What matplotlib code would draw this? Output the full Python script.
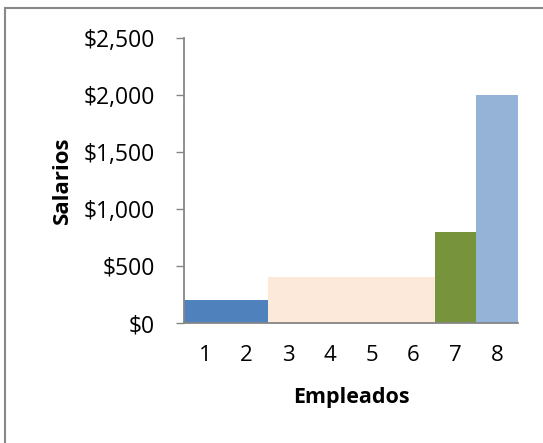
import matplotlib.pyplot as plt
from matplotlib.patches import Rectangle
from matplotlib.ticker import FuncFormatter

plt.rcParams['font.family'] = ['Open Sans', 'DejaVu Sans']

# data
empleados = [1, 2, 3, 4, 5, 6, 7, 8]
salarios = [200, 200, 400, 400, 400, 400, 800, 2000]
colores = ['#4F81BD', '#4F81BD', '#FCE9DA', '#FCE9DA', '#FCE9DA', '#FCE9DA', '#77933C', '#95B3D7']
y_ticks = [0, 500, 1000, 1500, 2000, 2500]

fig = plt.figure(figsize=(5.43, 4.43), dpi=100)
ax = fig.add_axes([184 / 543, 1 - 323 / 443, 334 / 543, 285 / 443])

ax.bar(empleados, salarios, width=1.0, color=colores, linewidth=0)

ax.set_xlim(0.5, 8.5)
ax.set_ylim(0, 2500)
ax.set_yticks(y_ticks)
ax.yaxis.set_major_formatter(FuncFormatter(lambda v, p: f"${v:,.0f}"))
ax.set_xticks(empleados)

for s in ['top', 'right']:
    ax.spines[s].set_visible(False)
for s in ['left', 'bottom']:
    ax.spines[s].set_color('#868686')
    ax.spines[s].set_linewidth(1.3)

ax.tick_params(axis='y', length=6, width=1, color='#868686', labelsize=16.5, pad=15)
ax.tick_params(axis='x', length=0, labelsize=16, pad=16)

ax.set_xlabel('Empleados', fontsize=15.5, fontweight='bold', va='center')
ax.set_ylabel('Salarios', fontsize=16, fontweight='bold', va='center')
ax.xaxis.set_label_coords((351 - 184) / 334, (323 - 398) / 285)
ax.yaxis.set_label_coords((62 - 184) / 334, (323 - 180) / 285)

# outer chart border (only left and top edges fall inside the image)
fig.patches.append(Rectangle((5 / 543, -0.1), 1.2, 1.1 - 8 / 443, transform=fig.transFigure,
                             fill=False, edgecolor='#888888', linewidth=1.5))

fig.savefig('out.png', dpi=100)
